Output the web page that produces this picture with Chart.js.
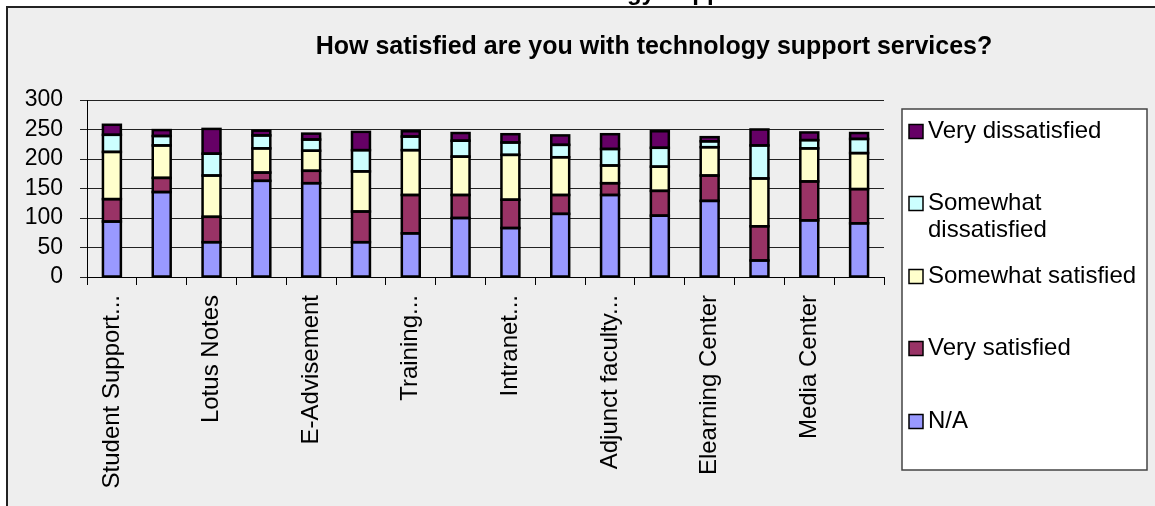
<!DOCTYPE html>
<html>
<head>
<meta charset="utf-8">
<script src="https://cdn.jsdelivr.net/npm/chart.js@4.4.1/dist/chart.umd.min.js"></script>
<style>
  html, body { margin: 0; padding: 0; background: #ffffff; }
  #wrap { width: 1155px; height: 506px; }
</style>
</head>
<body>
<div id="wrap"><canvas id="c" width="1155" height="506"></canvas></div>
<script>
// ---- data ----
const categories = ["Student Support...", "", "Lotus Notes", "", "E-Advisement", "", "Training...", "",
                    "Intranet...", "", "Adjunct faculty...", "", "Elearning Center", "", "Media Center", ""];
const naValues          = [94, 144, 59, 163, 159, 59, 74, 100, 83, 107, 139, 104, 129, 28, 96, 91];
const verySatisfied     = [38, 24, 43, 14, 21, 52, 65, 39, 48, 32, 20, 42, 43, 58, 66, 58];
const somewhatSatisfied = [80, 55, 70, 41, 34, 68, 76, 65, 76, 64, 30, 41, 48, 81, 56, 61];
const somewhatDissat    = [29, 16, 37, 22, 19, 36, 23, 27, 21, 21, 28, 32, 10, 56, 14, 24];
const veryDissat        = [17, 10, 42, 8, 10, 31, 9, 13, 14, 16, 25, 28, 7, 27, 13, 10];
const seriesNames = ["N/A", "Very satisfied", "Somewhat satisfied", ["Somewhat", "dissatisfied"], "Very dissatisfied"];
const yTicks = [0, 50, 100, 150, 200, 250, 300];
const chartTitle = "How satisfied are you with technology support services?";
const cutTitle = "Technology Support";

const FONT = "'Liberation Sans', Arial, sans-serif";
const colors = ["#9999FF", "#993366", "#FFFFCC", "#CCFFFF", "#660066"];
const seriesData = [naValues, verySatisfied, somewhatSatisfied, somewhatDissat, veryDissat];

const datasets = seriesData.map((d, i) => ({
  label: Array.isArray(seriesNames[i]) ? seriesNames[i].join(" ") : seriesNames[i],
  data: d,
  backgroundColor: colors[i],
  borderColor: "#000000",
  borderWidth: 0,
  inflateAmount: 0,
  barPercentage: 0.36,
  categoryPercentage: 1.0
}));

// Excel-style centred outlines on every bar segment (geometry from Chart.js elements)
const outlines = {
  id: "outlines",
  afterDatasetsDraw(chart) {
    const ctx = chart.ctx;
    ctx.save();
    ctx.strokeStyle = "#000";
    ctx.lineWidth = 2.5;
    ctx.lineJoin = "miter";
    chart.data.datasets.forEach((ds, i) => {
      const meta = chart.getDatasetMeta(i);
      meta.data.forEach(el => {
        const p = el.getProps(["x", "y", "base", "width"], true);
        const top = Math.min(p.y, p.base), h = Math.abs(p.base - p.y);
        ctx.strokeRect(p.x - p.width / 2, top, p.width, h);
      });
    });
    ctx.restore();
  }
};

const decor = {
  id: "decor",
  beforeDraw(chart) {
    const ctx = chart.ctx;
    ctx.save();
    ctx.fillStyle = "#ffffff";
    ctx.fillRect(0, 0, chart.width, chart.height);
    // cut-off heading above the panel
    ctx.fillStyle = "#000";
    ctx.font = "bold 24px " + FONT;
    ctx.textBaseline = "alphabetic";
    ctx.textAlign = "left";
    ctx.fillText(cutTitle, 522, 0);
    // panel
    ctx.fillStyle = "#EEEEEE";
    ctx.fillRect(7, 7, chart.width - 7, chart.height - 7);
    ctx.strokeStyle = "#222";
    ctx.lineWidth = 2;
    ctx.beginPath();
    ctx.moveTo(7, chart.height);
    ctx.lineTo(7, 7);
    ctx.lineTo(chart.width, 7);
    ctx.stroke();
    // title
    ctx.fillStyle = "#000";
    ctx.font = "bold 25px " + FONT;
    ctx.textAlign = "center";
    ctx.textBaseline = "middle";
    ctx.fillText(chartTitle, 654, 47);
    ctx.restore();
  },
  afterDraw(chart) {
    const ctx = chart.ctx;
    ctx.save();
    // legend box
    ctx.fillStyle = "#ffffff";
    ctx.fillRect(902, 109, 245, 361);
    ctx.strokeStyle = "#444";
    ctx.lineWidth = 1.5;
    ctx.strokeRect(902, 109, 245, 361);
    const rowY = [131.5, 203.5, 276.5, 348.5, 421.5];
    ctx.font = "24px " + FONT;
    ctx.textAlign = "left";
    ctx.textBaseline = "middle";
    const n = chart.data.datasets.length;
    for (let k = 0; k < n; k++) {
      const idx = n - 1 - k;
      const ds = chart.data.datasets[idx];
      const y = rowY[k];
      ctx.fillStyle = ds.backgroundColor;
      ctx.fillRect(909, y - 7, 14, 14);
      ctx.strokeStyle = "#000";
      ctx.lineWidth = 1.5;
      ctx.strokeRect(909, y - 7, 14, 14);
      ctx.fillStyle = "#000";
      const name = seriesNames[idx];
      const lines = Array.isArray(name) ? name : [name];
      lines.forEach((t, j) => ctx.fillText(t, 928, y + j * 27));
    }
    ctx.restore();
  }
};

new Chart(document.getElementById("c"), {
  type: "bar",
  data: { labels: categories, datasets: datasets },
  plugins: [decor, outlines],
  options: {
    responsive: false,
    animation: false,
    devicePixelRatio: 1,
    layout: { padding: { top: 100, right: 271, left: 0, bottom: 0 } },
    plugins: { legend: { display: false }, title: { display: false }, tooltip: { enabled: false } },
    scales: {
      x: {
        stacked: true,
        offset: true,
        grid: { display: true, drawOnChartArea: false, drawTicks: true, tickLength: 8, color: "#000", offset: true },
        border: { display: true, color: "#000", width: 1 },
        ticks: {
          autoSkip: false, maxRotation: 90, minRotation: 90, padding: 10,
          color: "#000", font: { family: FONT, size: 24 }
        },
        afterFit(scale) { scale.height = 229; }
      },
      y: {
        stacked: true,
        min: 0, max: 300,
        afterBuildTicks(scale) { scale.ticks = yTicks.map(v => ({ value: v })); },
        grid: { color: "#222", lineWidth: 1, tickLength: 7, drawTicks: true },
        border: { display: true, color: "#000", width: 1 },
        ticks: { autoSkip: false, padding: 17, color: "#000", font: { family: FONT, size: 23 } },
        afterFit(scale) { scale.width = 87; }
      }
    }
  }
});
</script>
</body>
</html>
